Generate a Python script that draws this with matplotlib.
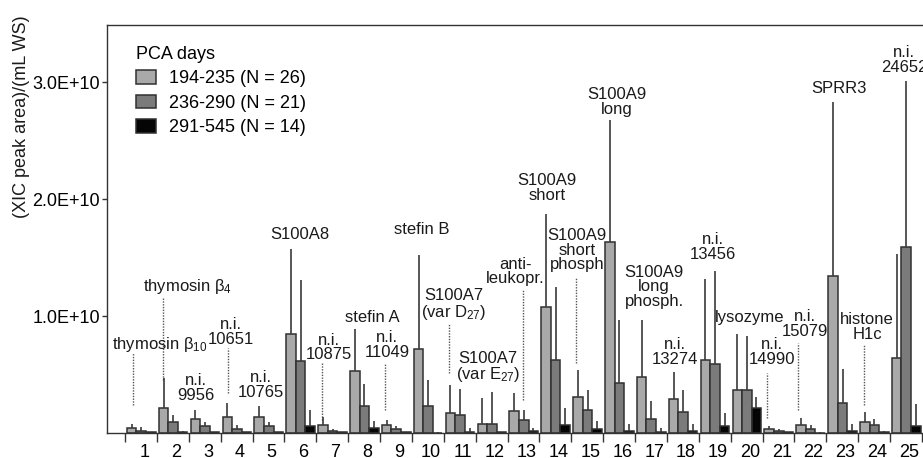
import numpy as np
import matplotlib
matplotlib.use("Agg")
import matplotlib.pyplot as plt
from matplotlib.ticker import FuncFormatter

plt.rcParams["font.family"] = "Liberation Sans"
plt.rcParams["mathtext.fontset"] = "custom"
plt.rcParams["mathtext.rm"] = "Liberation Sans"
plt.rcParams["mathtext.it"] = "Liberation Sans:italic"

# values in units of 1E+10 (XIC peak area)/(mL WS)
groups = np.arange(1, 26)
series = ["194-235 (N = 26)", "236-290 (N = 21)", "291-545 (N = 14)"]
light = [0.043, 0.21, 0.123, 0.137, 0.137, 0.843, 0.066, 0.53, 0.066, 0.72, 0.17, 0.08, 0.19,
         1.075, 0.31, 1.63, 0.475, 0.29, 0.623, 0.372, 0.03, 0.066, 1.343, 0.094, 0.638]
light_sd = [0.037, 0.26, 0.074, 0.123, 0.093, 0.732, 0.074, 0.356, 0.044, 0.80, 0.24, 0.22, 0.15,
            0.795, 0.23, 1.05, 0.495, 0.23, 0.697, 0.471, 0.027, 0.064, 1.487, 0.086, 0.892]
dark = [0.015, 0.094, 0.058, 0.03, 0.058, 0.617, 0.015, 0.23, 0.03, 0.23, 0.15, 0.08, 0.11,
        0.623, 0.2, 0.43, 0.123, 0.18, 0.586, 0.372, 0.015, 0.03, 0.257, 0.072, 1.594]
dark_sd = [0.035, 0.059, 0.039, 0.036, 0.039, 0.693, 0.02, 0.19, 0.027, 0.22, 0.23, 0.27, 0.09,
           0.623, 0.17, 0.536, 0.147, 0.19, 0.804, 0.458, 0.015, 0.036, 0.293, 0.051, 1.416]
black = [0.005, 0.01, 0.005, 0.005, 0.005, 0.058, 0.005, 0.043, 0.005, 0.003, 0.008, 0.005, 0.02,
         0.066, 0.03, 0.017, 0.01, 0.015, 0.057, 0.218, 0.005, 0.003, 0.015, 0.01, 0.057]
black_sd = [0.005, 0.01, 0.005, 0.005, 0.005, 0.139, 0.005, 0.057, 0.005, 0.007, 0.037, 0.005, 0.02,
            0.144, 0.07, 0.058, 0.03, 0.06, 0.117, 0.092, 0.005, 0.007, 0.06, 0.01, 0.193]

labels = ["thymosin β$_{10}$", "thymosin β$_4$", "n.i.\n9956", "n.i.\n10651", "n.i.\n10765",
          "S100A8", "n.i.\n10875", "stefin A", "n.i.\n11049", "stefin B",
          "S100A7\n(var D$_{27}$)", "S100A7\n(var E$_{27}$)", "anti-\nleukopr.", "S100A9\nshort",
          "S100A9\nshort\nphosph", "S100A9\nlong", "S100A9\nlong\nphosph.", "n.i.\n13274",
          "n.i.\n13456", "lysozyme", "n.i.\n14990", "n.i.\n15079", "SPRR3", "histone\nH1c",
          "n.i.\n24652"]
# label placement (x in group units, y in 1E+10)
label_x = [1.10, 1.95, 2.23, 3.33, 4.27, 5.49, 6.40, 7.75, 8.22, 9.32, 10.32, 11.39, 12.24,
           13.24, 14.18, 15.44, 16.60, 17.25, 18.45, 19.61, 20.30, 21.33, 22.40, 23.28, 24.44]
label_y = [0.753, 1.249, 0.385, 0.864, 0.411, 1.694, 0.731, 0.992, 0.753, 1.745, 1.095, 0.56, 1.381,
           2.096, 1.565, 2.831, 1.249, 0.693, 1.591, 0.992, 0.693, 0.932, 2.943, 0.907, 3.19]
# dotted leader lines: x, y from, y to
lead_x = [0.25, 1.19, 3.23, 6.18, 8.16, 10.16, 12.49, 14.15, 20.14, 21.11, 23.18]
lead_y0 = [0.684, 1.155, 0.727, 0.599, 0.599, 0.941, 1.223, 1.326, 0.513, 0.77, 0.753]
lead_y1 = [0.24, 0.453, 0.342, 0.111, 0.197, 0.513, 0.282, 0.599, 0.128, 0.197, 0.24]

colors = ["#a9a9a9", "#7b7b7b", "#050505"]
fig = plt.figure(figsize=(9.23, 4.58), dpi=100)
ax = fig.add_axes([107 / 923, 25 / 458, 834 / 923, 408 / 458])

bw = 0.3
handles = []
for j, (vals, sd) in enumerate([(light, light_sd), (dark, dark_sd), (black, black_sd)]):
    x = groups - 1 + 0.06 + j * bw
    b = ax.bar(x, vals, width=bw, align="edge", color=colors[j], edgecolor="#303030",
               linewidth=1.1, label=series[j], zorder=2)
    handles.append(b)
    ax.errorbar(x + bw / 2, vals, yerr=[np.zeros(len(sd)), sd], fmt="none",
                ecolor="#3a3a3a", elinewidth=1.2, capsize=0, zorder=3)

for t, lx, ly in zip(labels, label_x, label_y):
    ax.text(lx, ly, t, ha="center", va="center", fontsize=12, color="#1a1a1a",
            linespacing=0.95, zorder=4)
ax.vlines(lead_x, lead_y1, lead_y0, colors="#555555", linestyles=(0, (1, 1)), lw=1.0, zorder=1)

ax.set_xlim(-0.565, 25.6)
ax.set_ylim(0, 3.49)
ax.set_xticks(np.arange(0, 26))
ax.set_xticklabels([])
ax.set_xticks(groups - 0.4, minor=True)
ax.set_xticklabels([str(g) for g in groups], minor=True, fontsize=13)
ax.tick_params(axis="x", which="major", length=6.5, width=1, color="#333333")
ax.tick_params(axis="x", which="minor", length=0, pad=8)
ax.set_yticks([1, 2, 3])
ax.yaxis.set_major_formatter(FuncFormatter(lambda v, p: f"{v:.1f}E+10"))
ax.tick_params(axis="y", length=3.5, width=1, pad=1.5, labelsize=13, color="#333333")
for s in ax.spines.values():
    s.set_color("#333333")
    s.set_linewidth(1.0)

fig.text(22 / 923, 1 - 117 / 458, "(XIC peak area)/(mL WS)", rotation=90, ha="center",
         va="center", fontsize=13, color="#1a1a1a")

ax.legend(handles=handles, title="PCA days", loc="upper left",
          bbox_to_anchor=(136 / 923, 1 - 46 / 458), bbox_transform=fig.transFigure,
          frameon=False, borderpad=0, borderaxespad=0, fontsize=13, title_fontsize=13,
          alignment="left", handlelength=1.1, handleheight=0.8, handletextpad=0.75,
          labelspacing=0.4)

fig.savefig("out.png", dpi=100)
